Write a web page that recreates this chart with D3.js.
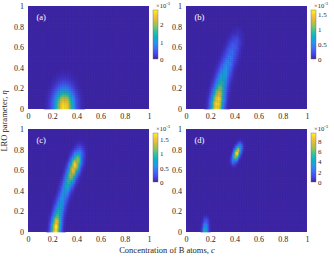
<!DOCTYPE html>
<html>
<head>
<meta charset="utf-8">
<script src="https://cdn.jsdelivr.net/npm/d3@7"></script>
<style>
  body { margin: 0; background: #fff; }
  text { font-family: "Liberation Serif", "Times New Roman", serif; }
</style>
</head>
<body>
<div id="chart"></div>
<script>
// axis ticks shared by all panels
const axisTicks = [0, 0.2, 0.4, 0.6, 0.8, 1];
const panelNames = ["(a)", "(b)", "(c)", "(d)"];

// ridge points: concentration c, LRO eta, value (x1e-3)
const ridgeC_a = [0.30];
const ridgeEta_a = [0.02];
const ridgeV_a = [2.8];

const ridgeC_b = [0.255, 0.258, 0.265, 0.272, 0.282, 0.293, 0.305, 0.318, 0.332, 0.347, 0.362, 0.377, 0.393, 0.41, 0.425, 0.44];
const ridgeEta_b = [0.0, 0.05, 0.10, 0.15, 0.20, 0.25, 0.30, 0.35, 0.40, 0.45, 0.50, 0.55, 0.60, 0.65, 0.70, 0.74];
const ridgeV_b = [1.6, 1.62, 1.55, 1.35, 1.1, 0.9, 0.75, 0.65, 0.55, 0.5, 0.45, 0.4, 0.33, 0.22, 0.1, 0.03];

const ridgeC_c = [0.228, 0.232, 0.238, 0.245, 0.255, 0.267, 0.28, 0.293, 0.307, 0.322, 0.338, 0.355, 0.372, 0.39, 0.408, 0.425, 0.44];
const ridgeEta_c = [0.0, 0.05, 0.10, 0.15, 0.20, 0.25, 0.30, 0.35, 0.40, 0.45, 0.50, 0.55, 0.60, 0.65, 0.70, 0.75, 0.78];
const ridgeV_c = [1.7, 1.72, 1.5, 1.1, 0.9, 0.75, 0.65, 0.6, 0.65, 0.8, 1.0, 1.3, 1.55, 1.65, 1.25, 0.55, 0.15];

const ridgeC_d = [0.16, 0.162, 0.165, 0.395, 0.408, 0.42, 0.432, 0.445];
const ridgeEta_d = [0.02, 0.06, 0.10, 0.70, 0.735, 0.765, 0.795, 0.825];
const ridgeV_d = [5.0, 3.5, 1.8, 3.0, 7.0, 9.5, 8.0, 4.0];

const spreadC = [0.055, 0.034, 0.026, 0.016];
const spreadEta = [0.12, 0.06, 0.058, 0.032];

const cbarMax = [2.85, 1.64, 1.72, 9.6];
const cbarTicks = [[0, 1, 2], [0, 0.5, 1, 1.5], [0, 0.5, 1, 1.5], [0, 2, 4, 6, 8]];

const ridges = [
  [ridgeC_a, ridgeEta_a, ridgeV_a],
  [ridgeC_b, ridgeEta_b, ridgeV_b],
  [ridgeC_c, ridgeEta_c, ridgeV_c],
  [ridgeC_d, ridgeEta_d, ridgeV_d]
];

// parula
const parula = ["#3e26a8", "#4747eb", "#3e6ffe", "#2797eb", "#08b0d0", "#31bfa0", "#80c85f", "#d2bc36", "#fcc33a", "#f9fb0e"];

const width = 334, height = 258;
const step = 0.01;      // pcolor cell
const meshStep = 0.02;  // faceted edge texture

const svg = d3.select("#chart").append("svg")
  .attr("width", width).attr("height", height);

const defs = svg.append("defs");
const grad = defs.append("linearGradient").attr("id", "parula")
  .attr("x1", 0).attr("y1", 1).attr("x2", 0).attr("y2", 0);
parula.forEach((c, i) => grad.append("stop")
  .attr("offset", i / (parula.length - 1)).attr("stop-color", c));

const panels = [
  {x0: 28, y0: 6}, {x0: 186, y0: 6},
  {x0: 28, y0: 129}, {x0: 186, y0: 129}
];
const pw = 121, ph = 103;

panels.forEach((p, k) => {
  const x = d3.scaleLinear().domain([0, 1]).range([p.x0, p.x0 + pw]);
  const y = d3.scaleLinear().domain([0, 1]).range([p.y0 + ph, p.y0]);
  const color = d3.scaleSequential(d3.interpolateRgbBasis(parula)).domain([0, cbarMax[k]]);
  const [rc, re, rv] = ridges[k];

  const value = (c, e) => {
    let m = 0;
    for (let i = 0; i < rc.length; i++) {
      const dc = (c - rc[i]) / spreadC[k], de = (e - re[i]) / spreadEta[k];
      m = Math.max(m, rv[i] * Math.exp(-0.5 * (dc * dc + de * de)));
    }
    return m;
  };

  const g = svg.append("g");
  g.append("rect")
    .attr("x", x(0)).attr("y", y(1))
    .attr("width", x(1) - x(0)).attr("height", y(0) - y(1))
    .attr("fill", parula[0]);

  const cells = [];
  const n = Math.round(1 / step);
  for (let i = 0; i < n; i++) {
    for (let j = 0; j < n; j++) {
      const c = i * step, e = j * step;
      const v = value(c + step / 2, e + step / 2);
      if (v > cbarMax[k] * 0.01) cells.push({c, e, v});
    }
  }
  g.selectAll("rect.cell").data(cells).join("rect")
    .attr("class", "cell")
    .attr("x", d => x(d.c)).attr("y", d => y(d.e + step))
    .attr("width", x(step) - x(0) + 0.3).attr("height", y(0) - y(step) + 0.3)
    .attr("fill", d => color(d.v));

  // faceted mesh lines
  const lines = d3.range(1, Math.round(1 / meshStep)).map(i => i * meshStep);
  g.selectAll("line.v").data(lines).join("line")
    .attr("x1", d => x(d)).attr("x2", d => x(d))
    .attr("y1", y(0)).attr("y2", y(1))
    .attr("stroke", "#000").attr("stroke-opacity", 0.08).attr("stroke-width", 0.5);
  g.selectAll("line.h").data(lines).join("line")
    .attr("y1", d => y(d)).attr("y2", d => y(d))
    .attr("x1", x(0)).attr("x2", x(1))
    .attr("stroke", "#000").attr("stroke-opacity", 0.08).attr("stroke-width", 0.5);

  // axes
  const fmt = d => d === 0 || d === 1 ? d3.format("d")(d) : d3.format(".1f")(d);
  const xAxis = svg.append("g").attr("transform", `translate(0,${y(0)})`)
    .call(d3.axisBottom(x).tickValues(axisTicks).tickFormat(fmt).tickSize(0).tickPadding(4));
  const yAxis = svg.append("g").attr("transform", `translate(${x(0)},0)`)
    .call(d3.axisLeft(y).tickValues(axisTicks).tickFormat(fmt).tickSize(0).tickPadding(4));
  [xAxis, yAxis].forEach(a => {
    a.select(".domain").remove();
    a.selectAll("text").attr("font-size", 8).attr("fill", "#262626")
      .style("font-family", '"Liberation Serif", serif');
  });

  g.append("text")
    .attr("x", x(0.07)).attr("y", y(0.86))
    .attr("fill", "#fff").attr("font-size", 8.5)
    .text(panelNames[k]);

  // colorbar
  const cb = {x: p.x0 + pw + 4, y: p.y0 + 4, w: 5, h: 49};
  const cy = d3.scaleLinear().domain([0, cbarMax[k]]).range([cb.y + cb.h, cb.y]);
  svg.append("rect")
    .attr("x", cb.x).attr("y", cb.y).attr("width", cb.w).attr("height", cb.h)
    .attr("fill", "url(#parula)").attr("stroke", "#666").attr("stroke-width", 0.4);
  const cAxis = svg.append("g").attr("transform", `translate(${cb.x + cb.w},0)`)
    .call(d3.axisRight(cy).tickValues(cbarTicks[k]).tickFormat(d3.format("~g")).tickSize(0).tickPadding(2));
  cAxis.select(".domain").remove();
  cAxis.selectAll("text").attr("font-size", 7).attr("fill", "#262626")
    .style("font-family", '"Liberation Serif", serif');

  const mult = svg.append("text")
    .attr("x", cb.x + 3).attr("y", cb.y - 2)
    .attr("font-size", 6.5).attr("fill", "#262626");
  mult.append("tspan").text("\u00d710");
  mult.append("tspan").attr("font-size", 4.5).attr("dy", -3).text("-3");
});

// axis titles
const yl = svg.append("text")
  .attr("transform", "translate(7,121) rotate(-90)")
  .attr("text-anchor", "middle").attr("font-size", 8.5).attr("fill", "#262626");
yl.append("tspan").text("LRO parameter, ");
yl.append("tspan").attr("font-style", "italic").text("\u03b7");

const xl = svg.append("text")
  .attr("x", 167).attr("y", 253)
  .attr("text-anchor", "middle").attr("font-size", 8.5).attr("fill", "#262626");
xl.append("tspan").text("Concentration of B atoms, ");
xl.append("tspan").attr("font-style", "italic").text("c");
</script>
</body>
</html>
